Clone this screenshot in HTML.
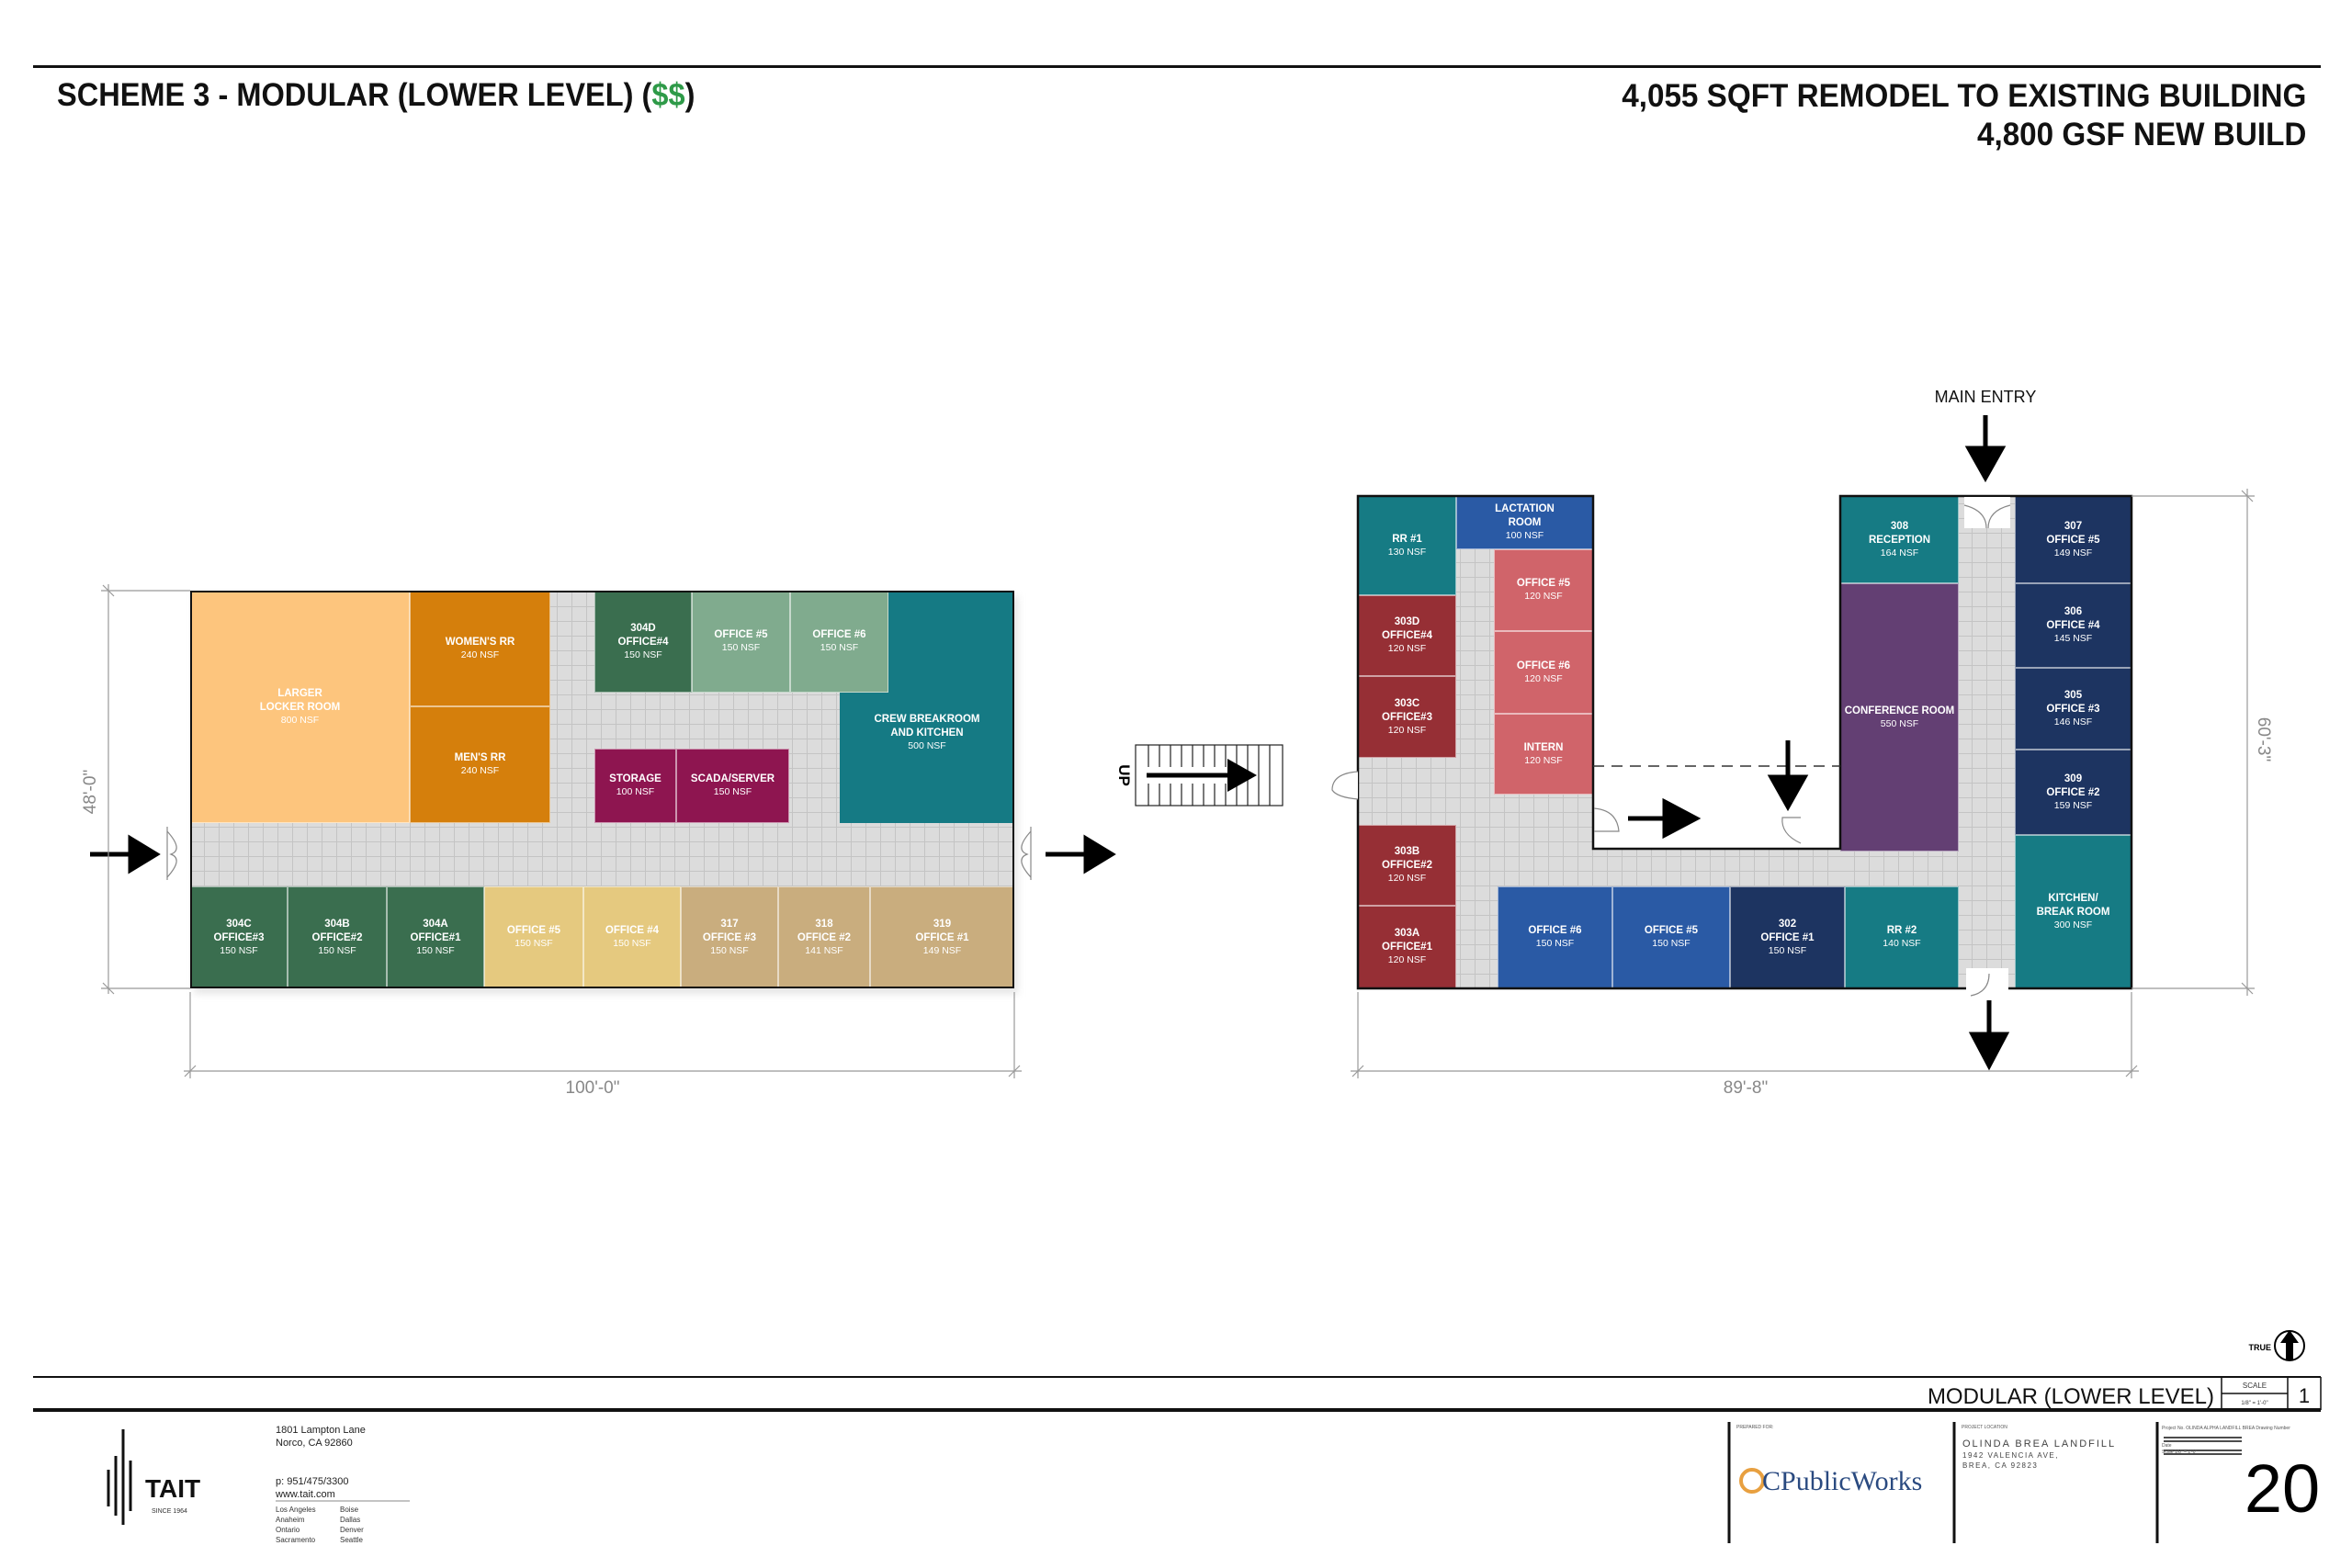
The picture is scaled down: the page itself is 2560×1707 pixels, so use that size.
<!DOCTYPE html>
<html><head><meta charset="utf-8"><style>
*{margin:0;padding:0}
body{width:2560px;height:1707px;background:#fff;position:relative;overflow:hidden;font-family:"Liberation Sans",sans-serif}
.a{position:absolute}
.g{position:absolute;background-color:#dcdcdc;background-image:repeating-linear-gradient(90deg,transparent 0 15px,#c4c4c4 15px 16px),repeating-linear-gradient(0deg,transparent 0 15px,#c4c4c4 15px 16px)}
.r{position:absolute;color:#fff;display:flex;flex-direction:column;align-items:center;justify-content:center;text-align:center;font-size:11.5px;font-weight:bold;line-height:1.3;box-sizing:border-box;border:1px solid rgba(255,255,255,.55)}
.r i{font-style:normal;font-weight:normal;font-size:10.5px}
</style></head><body>
<div class="a" style="left:36px;top:71px;width:2490px;height:3px;background:#111"></div>
<div class="a" style="left:62px;top:84px;font-size:35px;font-weight:bold;color:#111;transform:scaleX(0.93);transform-origin:left top">SCHEME 3 - MODULAR (LOWER LEVEL) (<span style="color:#2e9a48">$$</span>)</div>
<div class="a" style="right:50px;top:84px;font-size:35px;font-weight:bold;color:#111;text-align:right;line-height:42px;transform:scaleX(0.95);transform-origin:right top">4,055 SQFT REMODEL TO EXISTING BUILDING<br>4,800 GSF NEW BUILD</div>

<div class="a" style="left:211px;top:649px;width:897px;height:433px;background:#e6e6e6;filter:blur(4px)"></div>
<div class="g" style="left:207px;top:643px;width:897px;height:433px"></div>
<div class="r" style="left:207px;top:643px;width:239px;height:253px;background:#FDC57D">LARGER<br>LOCKER ROOM<i>800 NSF</i></div>
<div class="r" style="left:446px;top:643px;width:153px;height:126px;background:#D57F0C">WOMEN'S RR<i>240 NSF</i></div>
<div class="r" style="left:446px;top:769px;width:153px;height:127px;background:#D57F0C">MEN'S RR<i>240 NSF</i></div>
<div class="r" style="left:647px;top:643px;width:106px;height:111px;background:#3A6E4F">304D<br>OFFICE#4<i>150 NSF</i></div>
<div class="r" style="left:753px;top:643px;width:107px;height:111px;background:#80AB8E">OFFICE #5<i>150 NSF</i></div>
<div class="r" style="left:860px;top:643px;width:107px;height:111px;background:#80AB8E">OFFICE #6<i>150 NSF</i></div>
<div class="a" style="left:967px;top:643px;width:137px;height:253px;background:#157A84"></div>
<div class="a" style="left:914px;top:754px;width:60px;height:142px;background:#157A84"></div>
<div class="r" style="left:914px;top:754px;width:190px;height:142px;border:none;background:transparent;padding-bottom:55px">CREW BREAKROOM<br>AND KITCHEN<i>500 NSF</i></div>
<div class="r" style="left:647px;top:815px;width:89px;height:81px;background:#8E1550">STORAGE<i>100 NSF</i></div>
<div class="r" style="left:736px;top:815px;width:123px;height:81px;background:#8E1550">SCADA/SERVER<i>150 NSF</i></div>
<div class="r" style="left:207px;top:965px;width:106px;height:111px;background:#3A6E4F">304C<br>OFFICE#3<i>150 NSF</i></div>
<div class="r" style="left:313px;top:965px;width:108px;height:111px;background:#3A6E4F">304B<br>OFFICE#2<i>150 NSF</i></div>
<div class="r" style="left:421px;top:965px;width:106px;height:111px;background:#3A6E4F">304A<br>OFFICE#1<i>150 NSF</i></div>
<div class="r" style="left:527px;top:965px;width:108px;height:111px;background:#E5C97F">OFFICE #5<i>150 NSF</i></div>
<div class="r" style="left:635px;top:965px;width:106px;height:111px;background:#E5C97F">OFFICE #4<i>150 NSF</i></div>
<div class="r" style="left:741px;top:965px;width:106px;height:111px;background:#C9AD7E">317<br>OFFICE #3<i>150 NSF</i></div>
<div class="r" style="left:847px;top:965px;width:100px;height:111px;background:#C9AD7E">318<br>OFFICE #2<i>141 NSF</i></div>
<div class="r" style="left:947px;top:965px;width:157px;height:111px;background:#C9AD7E">319<br>OFFICE #1<i>149 NSF</i></div>
<div class="a" style="left:207px;top:643px;width:897px;height:433px;border:2px solid #111;box-sizing:border-box"></div>

<div class="g" style="left:1478px;top:540px;width:256px;height:536px"></div>
<div class="g" style="left:1478px;top:924px;width:842px;height:152px"></div>
<div class="g" style="left:2003px;top:540px;width:317px;height:536px"></div>
<div class="r" style="left:1478px;top:540px;width:107px;height:108px;background:#167B84">RR #1<i>130 NSF</i></div>
<div class="r" style="left:1585px;top:540px;width:149px;height:58px;background:#2A5AA5">LACTATION<br>ROOM<i>100 NSF</i></div>
<div class="r" style="left:1626px;top:598px;width:108px;height:89px;background:#D0646A">OFFICE #5<i>120 NSF</i></div>
<div class="r" style="left:1626px;top:687px;width:108px;height:90px;background:#D0646A">OFFICE #6<i>120 NSF</i></div>
<div class="r" style="left:1626px;top:777px;width:108px;height:88px;background:#D0646A">INTERN<i>120 NSF</i></div>
<div class="r" style="left:1478px;top:648px;width:107px;height:88px;background:#962F35">303D<br>OFFICE#4<i>120 NSF</i></div>
<div class="r" style="left:1478px;top:736px;width:107px;height:89px;background:#962F35">303C<br>OFFICE#3<i>120 NSF</i></div>
<div class="r" style="left:1478px;top:898px;width:107px;height:88px;background:#962F35">303B<br>OFFICE#2<i>120 NSF</i></div>
<div class="r" style="left:1478px;top:986px;width:107px;height:90px;background:#962F35">303A<br>OFFICE#1<i>120 NSF</i></div>
<div class="r" style="left:1630px;top:965px;width:125px;height:111px;background:#2A5AA5">OFFICE #6<i>150 NSF</i></div>
<div class="r" style="left:1755px;top:965px;width:128px;height:111px;background:#2A5AA5">OFFICE #5<i>150 NSF</i></div>
<div class="r" style="left:1883px;top:965px;width:125px;height:111px;background:#1D3461">302<br>OFFICE #1<i>150 NSF</i></div>
<div class="r" style="left:2008px;top:965px;width:124px;height:111px;background:#167B84">RR #2<i>140 NSF</i></div>
<div class="r" style="left:2003px;top:540px;width:129px;height:95px;background:#167B84">308<br>RECEPTION<i>164 NSF</i></div>
<div class="r" style="left:2003px;top:635px;width:129px;height:292px;background:#633F73">CONFERENCE ROOM<i>550 NSF</i></div>
<div class="r" style="left:2193px;top:540px;width:127px;height:95px;background:#1D3461">307<br>OFFICE #5<i>149 NSF</i></div>
<div class="r" style="left:2193px;top:635px;width:127px;height:92px;background:#1D3461">306<br>OFFICE #4<i>145 NSF</i></div>
<div class="r" style="left:2193px;top:727px;width:127px;height:89px;background:#1D3461">305<br>OFFICE #3<i>146 NSF</i></div>
<div class="r" style="left:2193px;top:816px;width:127px;height:93px;background:#1D3461">309<br>OFFICE #2<i>159 NSF</i></div>
<div class="r" style="left:2193px;top:909px;width:127px;height:167px;background:#167B84">KITCHEN/<br>BREAK ROOM<i>300 NSF</i></div>

<svg class="a" style="left:0;top:0" width="2560" height="1707">
<g fill="none" stroke="#111" stroke-width="2.5">
<path d="M1478,540H1734V924H2003V540H2320V1076H1478Z"/>
</g>
<line x1="1734" y1="834" x2="2003" y2="834" stroke="#333" stroke-width="1.5" stroke-dasharray="12,8"/>
<g fill="#fff" stroke="#888" stroke-width="1.2">
<rect x="2138" y="541" width="50" height="34" stroke="none"/>
<path d="M2138,550 Q2162,556 2162,575 M2188,550 Q2164,556 2164,575" fill="none"/>
<rect x="2140" y="1054" width="46" height="30" stroke="none"/>
<path d="M2165,1060 Q2165,1080 2145,1084" fill="none"/>
<path d="M1735,880 Q1760,882 1762,905 L1735,905" fill="none"/>
<path d="M1960,918 Q1938,908 1940,890 L1960,890" fill="none"/>
<path d="M1478,840 Q1450,842 1450,860 Q1455,868 1478,870" />
<path d="M182,900 L182,958 M1122,900 L1122,958" fill="none"/>
<path d="M182,905 Q200,925 186,930 Q200,935 182,955 M1122,905 Q1104,925 1118,930 Q1104,935 1122,955" fill="none"/>
</g>
<g stroke="#000" stroke-width="5" fill="#000">
<line x1="98" y1="930" x2="150" y2="930"/><path d="M142,913L170,930L142,947z"/>
<line x1="1138" y1="930" x2="1190" y2="930"/><path d="M1182,913L1210,930L1182,947z"/>
<line x1="1772" y1="891" x2="1815" y2="891"/><path d="M1812,873L1846,891L1812,909z"/>
<line x1="1946" y1="806" x2="1946" y2="850"/><path d="M1928,846L1946,878L1964,846z"/>
<line x1="2161" y1="452" x2="2161" y2="492"/><path d="M2143,488L2161,520L2179,488z"/>
<line x1="2165" y1="1089" x2="2165" y2="1130"/><path d="M2147,1126L2165,1160L2183,1126z"/>
</g>
<g stroke="#222" stroke-width="1.2" fill="none">
<rect x="1236" y="811" width="160" height="66"/>
<path d="M1250,811V877M1262,811V877M1274,811V877M1286,811V877M1298,811V877M1310,811V877M1322,811V877M1334,811V877M1346,811V877M1358,811V877M1370,811V877M1382,811V877"/>
</g>
<rect x="1246" y="835" width="90" height="18" fill="#fff"/>
<line x1="1248" y1="844" x2="1336" y2="844" stroke="#000" stroke-width="5"/>
<path d="M1336,826L1368,844L1336,862z"/>
<g stroke="#999" stroke-width="1.2">
<line x1="118" y1="636" x2="118" y2="1082"/><line x1="110" y1="643" x2="207" y2="643"/><line x1="110" y1="1076" x2="207" y2="1076"/>
<line x1="112" y1="637" x2="124" y2="649"/><line x1="112" y1="1070" x2="124" y2="1082"/>
<line x1="200" y1="1166" x2="1112" y2="1166"/><line x1="207" y1="1080" x2="207" y2="1174"/><line x1="1104" y1="1080" x2="1104" y2="1174"/>
<line x1="201" y1="1172" x2="213" y2="1160"/><line x1="1098" y1="1172" x2="1110" y2="1160"/>
<line x1="1470" y1="1166" x2="2328" y2="1166"/><line x1="1478" y1="1080" x2="1478" y2="1174"/><line x1="2320" y1="1080" x2="2320" y2="1174"/>
<line x1="1472" y1="1172" x2="1484" y2="1160"/><line x1="2314" y1="1172" x2="2326" y2="1160"/>
<line x1="2446" y1="532" x2="2446" y2="1084"/><line x1="2320" y1="540" x2="2454" y2="540"/><line x1="2320" y1="1076" x2="2454" y2="1076"/>
<line x1="2440" y1="534" x2="2452" y2="546"/><line x1="2440" y1="1070" x2="2452" y2="1082"/>
</g>
<g fill="#888" font-family="Liberation Sans" font-size="19">
<text x="645" y="1190" text-anchor="middle">100'-0"</text>
<text x="1900" y="1190" text-anchor="middle">89'-8"</text>
<text transform="translate(104,862) rotate(-90)" text-anchor="middle">48'-0"</text>
<text transform="translate(2458,805) rotate(90)" text-anchor="middle">60'-3"</text>
</g>
<text transform="translate(1218,844) rotate(90)" text-anchor="middle" font-family="Liberation Sans" font-size="17" font-weight="bold">UP</text>
<text x="2161" y="438" text-anchor="middle" font-family="Liberation Sans" font-size="18" fill="#111">MAIN ENTRY</text>
<line x1="36" y1="1499" x2="2526" y2="1499" stroke="#111" stroke-width="2"/>
<line x1="36" y1="1535" x2="2526" y2="1535" stroke="#111" stroke-width="4"/>
<g stroke="#111" stroke-width="1.5" fill="none">
<path d="M2418,1499V1535M2490,1499V1535M2526,1499V1535M2418,1517H2490"/>
</g>
<g stroke="#111" stroke-width="3"><line x1="1882" y1="1548" x2="1882" y2="1680"/><line x1="2127" y1="1548" x2="2127" y2="1680"/><line x1="2348" y1="1548" x2="2348" y2="1680"/></g>
<g stroke="#111" stroke-width="1.5"><line x1="2355" y1="1565" x2="2440" y2="1565"/><line x1="2355" y1="1569" x2="2440" y2="1569"/><line x1="2355" y1="1579" x2="2440" y2="1579"/><line x1="2355" y1="1583" x2="2440" y2="1583"/></g>
<text x="2410" y="1528" text-anchor="end" font-family="Liberation Sans" font-size="24" fill="#111">MODULAR (LOWER LEVEL)</text>
<text x="2454" y="1511" text-anchor="middle" font-family="Liberation Sans" font-size="8" fill="#333">SCALE</text>
<text x="2454" y="1529" text-anchor="middle" font-family="Liberation Sans" font-size="6" fill="#333">1/8" = 1'-0"</text>
<text x="2508" y="1527" text-anchor="middle" font-family="Liberation Sans" font-size="22" fill="#111">1</text>
<text x="2484" y="1646" text-anchor="middle" font-family="Liberation Sans" font-size="74" fill="#000">20</text>
<g font-family="Liberation Sans" font-size="5" fill="#555"><text x="1890" y="1555">PREPARED FOR:</text><text x="2135" y="1555">PROJECT LOCATION</text><text x="2353" y="1556">Project No.  OLINDA ALPHA LANDFILL BREA      Drawing Number</text><text x="2353" y="1575">Date</text><text x="2353" y="1582">Scale      1/8" = 1'-0"</text></g>
<g font-family="Liberation Sans" fill="#444"><text x="2136" y="1575" font-size="11" letter-spacing="2">OLINDA BREA LANDFILL</text><text x="2136" y="1587" font-size="8" letter-spacing="1.5">1942 VALENCIA AVE,</text><text x="2136" y="1598" font-size="8" letter-spacing="1.5">BREA, CA 92823</text></g>
<circle cx="1907" cy="1612" r="12" fill="none" stroke="#e8a040" stroke-width="4"/>
<text x="1918" y="1622" font-family="Liberation Serif" font-size="30" fill="#2a4a80">CPublicWorks</text>
<circle cx="2492" cy="1465" r="16" fill="#fff" stroke="#000" stroke-width="2"/>
<path d="M2492,1448L2502,1462H2496V1481H2488V1462H2482Z" fill="#000"/>
<text x="2472" y="1470" text-anchor="end" font-family="Liberation Sans" font-size="9" font-weight="bold">TRUE</text>
<g stroke="#111" stroke-width="3"><line x1="118" y1="1600" x2="118" y2="1640"/><line x1="126" y1="1585" x2="126" y2="1650"/><line x1="134" y1="1556" x2="134" y2="1660"/><line x1="142" y1="1590" x2="142" y2="1645"/></g>
<text x="158" y="1630" font-family="Liberation Sans" font-size="28" font-weight="bold" fill="#111">TAIT</text>
<text x="165" y="1647" font-family="Liberation Sans" font-size="7" fill="#333">SINCE 1964</text>
<line x1="300" y1="1634" x2="446" y2="1634" stroke="#888" stroke-width="1"/>
<g font-family="Liberation Sans" font-size="11" fill="#222"><text x="300" y="1560">1801 Lampton Lane</text><text x="300" y="1574">Norco, CA 92860</text><text x="300" y="1616">p: 951/475/3300</text><text x="300" y="1630">www.tait.com</text></g>
<g font-family="Liberation Sans" font-size="8" fill="#333"><text x="300" y="1646">Los Angeles</text><text x="300" y="1657">Anaheim</text><text x="300" y="1668">Ontario</text><text x="300" y="1679">Sacramento</text><text x="370" y="1646">Boise</text><text x="370" y="1657">Dallas</text><text x="370" y="1668">Denver</text><text x="370" y="1679">Seattle</text></g>
</svg>
</body></html>
